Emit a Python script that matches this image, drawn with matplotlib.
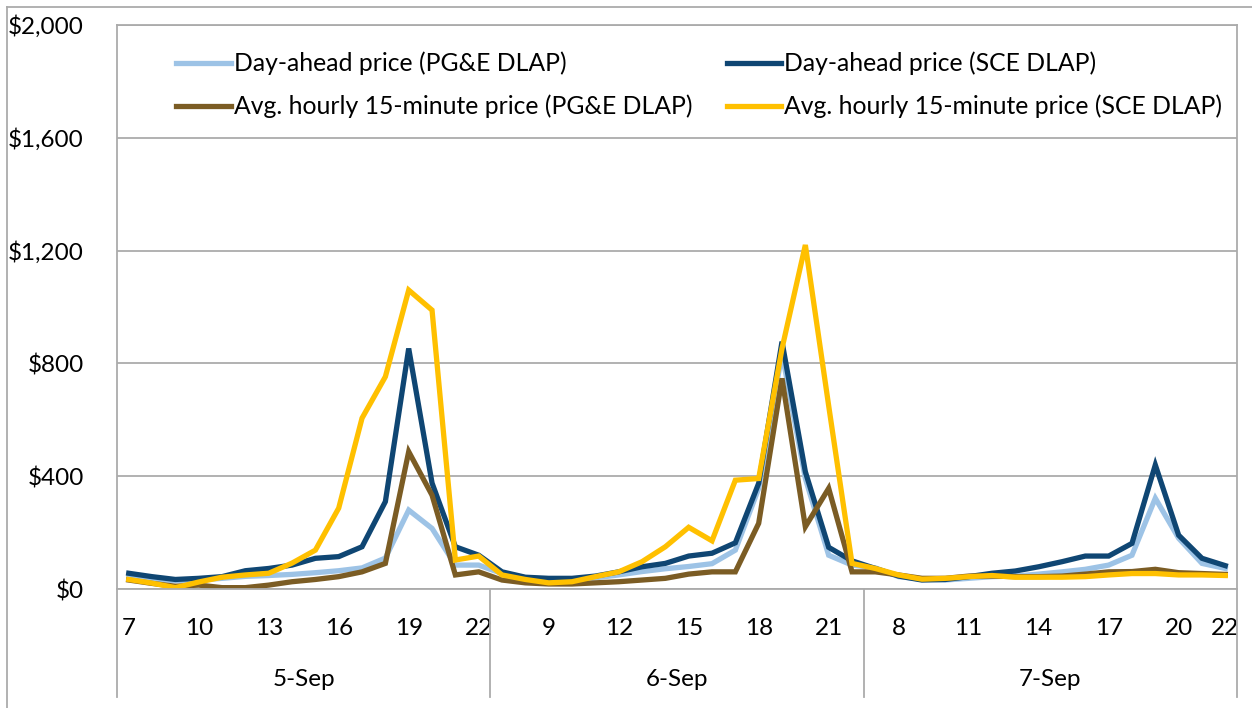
import matplotlib.pyplot as plt
from matplotlib.transforms import blended_transform_factory
from matplotlib.lines import Line2D

plt.rcParams['font.family'] = ['Lato', 'DejaVu Sans']

days = ['5-Sep', '6-Sep', '7-Sep']
hours = list(range(7, 23))

pge_da = [40, 35, 30, 32, 38, 45, 48, 52, 58, 65, 75, 110, 280, 215, 85, 85,
          55, 40, 35, 35, 40, 50, 62, 72, 80, 90, 138, 357, 836, 392, 120, 85,
          75, 44, 35, 32, 38, 44, 46, 53, 61, 70, 85, 120, 322, 180, 91, 73]
sce_da = [56, 44, 34, 38, 44, 65, 73, 85, 109, 115, 150, 310, 853, 376, 150, 120,
          61, 42, 38, 38, 46, 61, 79, 91, 117, 127, 164, 375, 877, 416, 148, 100,
          73, 46, 32, 34, 44, 56, 64, 79, 97, 117, 117, 162, 440, 191, 109, 83]
pge_15 = [32, 20, 10, 14, 5, 5, 14, 26, 34, 44, 61, 91, 487, 333, 50, 61,
          32, 22, 18, 18, 22, 26, 32, 38, 53, 61, 61, 233, 747, 221, 357, 61,
          61, 50, 38, 38, 46, 46, 44, 44, 46, 53, 61, 62, 70, 58, 55, 52]
sce_15 = [34, 21, 5, 25, 42, 50, 56, 92, 138, 287, 606, 753, 1060, 989, 103, 117,
          50, 34, 22, 26, 44, 61, 97, 150, 219, 171, 386, 392, 853, 1220, 650, 91,
          73, 50, 35, 38, 44, 48, 42, 42, 42, 44, 50, 55, 55, 50, 50, 48]

series = [
    (pge_da, '#9DC3E6', 'Day-ahead price (PG&E DLAP)'),
    (sce_da, '#0F4673', 'Day-ahead price (SCE DLAP)'),
    (pge_15, '#7B5C24', 'Avg. hourly 15-minute price (PG&E DLAP)'),
    (sce_15, '#FFC000', 'Avg. hourly 15-minute price (SCE DLAP)'),
]

fs = 17.5
fig = plt.figure(figsize=(12.52, 7.08), dpi=100)
ax = fig.add_axes([0.0935, 0.168, 0.8945, 0.7967])

x = list(range(len(pge_da)))
handles = []
for vals, col, lab in series:
    h, = ax.plot(x, vals, color=col, lw=3.8, label=lab, solid_joinstyle='miter')
    handles.append(h)

grid_c = '#ABABAB'
ax.set_xlim(-0.5, len(x) - 0.5)
ax.set_ylim(0, 2000)
ax.set_yticks(range(0, 2001, 400))
ax.set_yticklabels(['${:,}'.format(v) for v in range(0, 2001, 400)])
ax.grid(axis='y', color=grid_c, lw=1.3)
ax.set_axisbelow(True)
for s in ax.spines.values():
    s.set_color(grid_c)
    s.set_linewidth(1.3)

# category ticks: every third hour, plus the last one
tick_pos = list(range(0, len(x), 3)) + [len(x) - 1]
ax.set_xticks(tick_pos)
ax.set_xticklabels([str(hours[i % 16]) for i in tick_pos])
ax.tick_params(axis='x', length=0, pad=21, labelsize=fs)
ax.tick_params(axis='y', length=0, pad=24, labelsize=fs)

# day groups under the axis
tr = blended_transform_factory(ax.transData, ax.transAxes)
for k in range(len(days) + 1):
    xs = k * 16 - 0.5
    ax.add_line(Line2D([xs, xs], [0, -0.192], transform=tr, color=grid_c,
                       lw=1.3, clip_on=False))
for k, d in enumerate(days):
    ax.text(k * 16 + 7.5, -0.161, d, transform=tr, ha='center', va='center',
            fontsize=fs)

# outer chart border (left and top)
fig.add_artist(Line2D([0.0055, 0.0055], [0, 0.99], color=grid_c, lw=1.3))
fig.add_artist(Line2D([0.0055, 1], [0.99, 0.99], color=grid_c, lw=1.3))

order = [0, 2, 1, 3]
ax.legend([handles[i] for i in order], [series[i][2] for i in order],
          ncol=2, loc='upper left', bbox_to_anchor=(0.044, 0.97), frameon=False,
          fontsize=17.8, handlelength=2.2, handletextpad=0.12, columnspacing=1.4,
          labelspacing=0.78, borderaxespad=0)

fig.savefig('out.png', dpi=100)
